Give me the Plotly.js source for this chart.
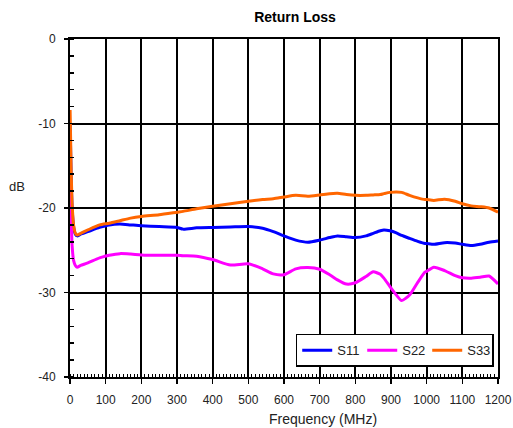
<!DOCTYPE html>
<html>
<head>
<meta charset="utf-8">
<script src="https://cdn.plot.ly/plotly-3.0.1.min.js"></script>
<style>html,body{margin:0;padding:0;background:#fff;}#chart{width:513px;height:428px;}</style>
</head>
<body>
<div id="chart"></div>
<script>
const freqMHz = [0.3, 3, 6, 10, 15, 20, 30, 50, 83, 110, 140, 170, 200, 250, 300, 317, 355, 400, 450, 500, 540, 570, 600, 633, 667, 700, 728, 750, 775, 800, 830, 850, 870, 880, 897, 915, 930, 952, 975, 995, 1000, 1020, 1050, 1080, 1100, 1125, 1150, 1175, 1200];

const s11 = [-10, -16, -20, -22.2, -23.1, -23.3, -23.1, -22.8, -22.3, -22.0, -21.9, -22.0, -22.1, -22.2, -22.3, -22.5, -22.35, -22.3, -22.25, -22.2, -22.4, -22.8, -23.3, -23.8, -24.05, -23.8, -23.5, -23.3, -23.4, -23.5, -23.3, -23.0, -22.7, -22.6, -22.7, -22.95, -23.25, -23.6, -23.95, -24.2, -24.2, -24.3, -24.1, -24.15, -24.3, -24.45, -24.3, -24.05, -23.9];

const s22 = [-17.3, -21, -24.5, -26.2, -26.8, -27.0, -26.8, -26.5, -25.9, -25.6, -25.4, -25.45, -25.55, -25.6, -25.6, -25.65, -25.7, -26.1, -26.75, -26.6, -27.2, -27.8, -27.9, -27.2, -27.05, -27.25, -27.9, -28.5, -29.0, -28.85, -28.1, -27.55, -27.85, -28.3, -29.3, -30.3, -30.95, -30.3, -28.8, -27.6, -27.5, -27.0, -27.4, -28.0, -28.25, -28.3, -28.2, -28.05, -29.0];

const s33 = [-8.4, -15, -19.5, -22.0, -23.0, -23.2, -23.0, -22.6, -22.0, -21.8, -21.5, -21.2, -21.0, -20.8, -20.5, -20.4, -20.1, -19.8, -19.5, -19.2, -19.0, -18.9, -18.7, -18.5, -18.6, -18.45, -18.3, -18.25, -18.4, -18.5, -18.5, -18.45, -18.4, -18.3, -18.15, -18.1, -18.15, -18.5, -18.8, -19.0, -19.0, -19.1, -18.95, -19.2, -19.5, -19.75, -19.85, -20.0, -20.5];

const seriesNames = ["S11", "S22", "S33"];
const seriesColors = ["#0000ff", "#ff00ff", "#ff6600"];
const seriesValues = [s11, s22, s33];

const yTickVals = [0, -10, -20, -30, -40];
const yTickText = ["0", "-10", "-20", "-30", "-40"];

const FONT = "'Liberation Sans', Arial, sans-serif";

const traces = seriesValues.map((vals, i) => ({
  type: "scatter",
  mode: "lines",
  name: seriesNames[i],
  x: freqMHz,
  y: vals,
  line: {color: seriesColors[i], width: 3, shape: "spline", smoothing: 0.6}
}));

const layout = {
  width: 513,
  height: 428,
  paper_bgcolor: "#ffffff",
  plot_bgcolor: "#ffffff",
  margin: {l: 70, r: 15, t: 39, b: 51},
  font: {family: FONT, size: 12, color: "#222"},
  title: {
    text: "<b>Return Loss</b>",
    font: {family: FONT, size: 14, color: "#000"},
    x: 0.575, xanchor: "center", y: 0.96, yanchor: "middle"
  },
  showlegend: true,
  legend: {
    orientation: "h",
    x: 0.99, xanchor: "right",
    y: 0.03, yanchor: "bottom",
    bgcolor: "#ffffff",
    bordercolor: "#000",
    borderwidth: 1.5,
    font: {family: FONT, size: 13, color: "#222"},
    entrywidth: 20,
    itemwidth: 30
  },
  xaxis: {
    range: [0, 1200],
    tick0: 0, dtick: 100,
    showgrid: true, gridcolor: "#000", gridwidth: 2,
    zeroline: false,
    showline: true, linecolor: "#000", linewidth: 2, mirror: true,
    ticks: "outside", ticklen: 5, tickwidth: 1.5, tickcolor: "#000",
    ticklabelstandoff: 6,
    minor: {dtick: 10, ticks: "inside", ticklen: 3, tickwidth: 1, tickcolor: "#000", showgrid: false},
    tickfont: {family: FONT, size: 12, color: "#222"}
  },
  yaxis: {
    range: [-40, 0],
    tickmode: "array", tickvals: yTickVals, ticktext: yTickText,
    showgrid: true, gridcolor: "#000", gridwidth: 2,
    zeroline: false,
    showline: true, linecolor: "#000", linewidth: 2, mirror: true,
    ticks: "outside", ticklen: 4, tickwidth: 1.5, tickcolor: "#000",
    ticklabelstandoff: 6,
    minor: {tickmode: "linear", tick0: 0, dtick: 2, ticks: "inside", ticklen: 4, tickwidth: 1.5, tickcolor: "#000", showgrid: false},
    tickfont: {family: FONT, size: 12, color: "#222"}
  },
  annotations: [
    {text: "dB", xref: "paper", yref: "paper", x: -0.125, y: 0.565, xanchor: "center", yanchor: "middle",
     showarrow: false, font: {family: FONT, size: 13, color: "#222"}},
    {text: "Frequency (MHz)", xref: "paper", yref: "paper", x: 0.59, y: -0.125, xanchor: "center", yanchor: "middle",
     showarrow: false, font: {family: FONT, size: 14, color: "#222"}}
  ]
};

Plotly.newPlot("chart", traces, layout, {displayModeBar: false, staticPlot: true});
</script>
</body>
</html>
